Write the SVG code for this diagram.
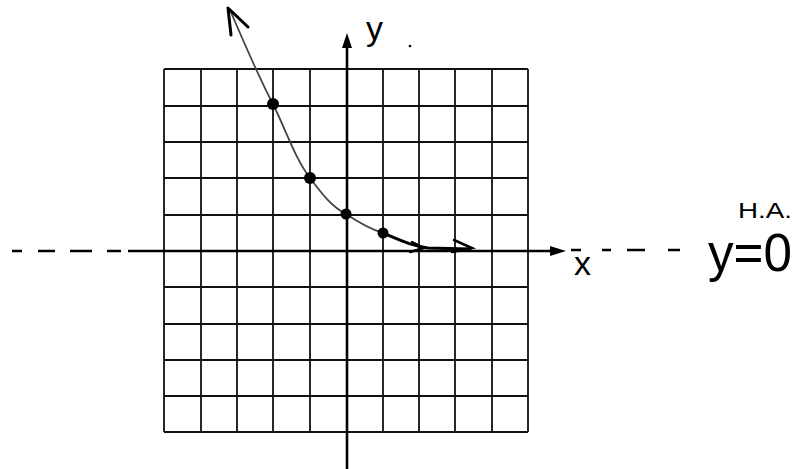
<svg xmlns="http://www.w3.org/2000/svg" width="800" height="469" viewBox="0 0 800 469">
<style>
.grid{stroke:#111;stroke-width:1.8;fill:none}
.axis{stroke:#000;stroke-width:2.6;fill:none}
.dash{stroke:#000;stroke-width:2.4;fill:none}
.curve{stroke:#444;stroke-width:1.8;fill:none;stroke-linecap:round}
.lbl{font-family:"Liberation Sans","DejaVu Sans",sans-serif;fill:#000}
.pt{fill:#000}
</style>
<rect width="800" height="469" fill="#fff"/>
<g id="grid">
<path class="grid" d="M164 69V432M201 69V432M237 69V432M273 69V432M310 69V432M383 69V432M419 69V432M455 69V432M492 69V432M528 69V432M164 69H528M164 106H528M164 142H528M164 178H528M164 215H528M164 287H528M164 324H528M164 360H528M164 396H528M164 432H528"/>
</g>
<g id="axes">
<path class="axis" d="M347 46V469"/>
<polygon points="347,33 342,48 352,48" fill="#000"/>
<path class="axis" d="M128 251H552"/>
<polygon points="566,251 550,246 550,256" fill="#000"/>
<path class="dash" d="M12 251H22M38 251H55M70 251H92M107 251H121M571 250H581M602 250H611M627 250H645M668 250H680"/>
</g>
<g id="connectors">
<path class="curve" d="M230 10 C245 45,260 80,273 104 C288 135,296 160,310 178 C322 194,332 207,346 214 C358 222,370 229,383 233"/>
<path d="M383 233 C400 240,412 246,428 248 L470 249" stroke="#000" stroke-width="3" fill="none" stroke-linecap="round"/>
<path d="M231 35 L228 8 L248 27" stroke="#000" stroke-width="3" fill="none" stroke-linecap="round" stroke-linejoin="round"/>
<path d="M412 242 L424 248 L410 252" stroke="#000" stroke-width="2.5" fill="none" stroke-linecap="round"/>
<path d="M454 240 L472 248 L452 252" stroke="#000" stroke-width="2.5" fill="none" stroke-linecap="round"/>
</g>
<g id="points">
<circle class="pt" cx="273" cy="104" r="6"/>
<circle class="pt" cx="310" cy="178" r="6"/>
<circle class="pt" cx="346" cy="214" r="5.5"/>
<circle class="pt" cx="383" cy="233" r="5.5"/>
</g>
<g id="labels">
<text class="lbl" x="366" y="40" font-size="34">y</text>
<circle cx="410" cy="46" r="1.3" fill="#000"/>
<text class="lbl" x="574" y="275" font-size="34">x</text>
<text class="lbl" x="738" y="218" font-size="22" textLength="54" lengthAdjust="spacingAndGlyphs">H.A.</text>
<text class="lbl" x="708" y="271" font-size="54" textLength="84" lengthAdjust="spacingAndGlyphs">y=0</text>
</g>
</svg>
